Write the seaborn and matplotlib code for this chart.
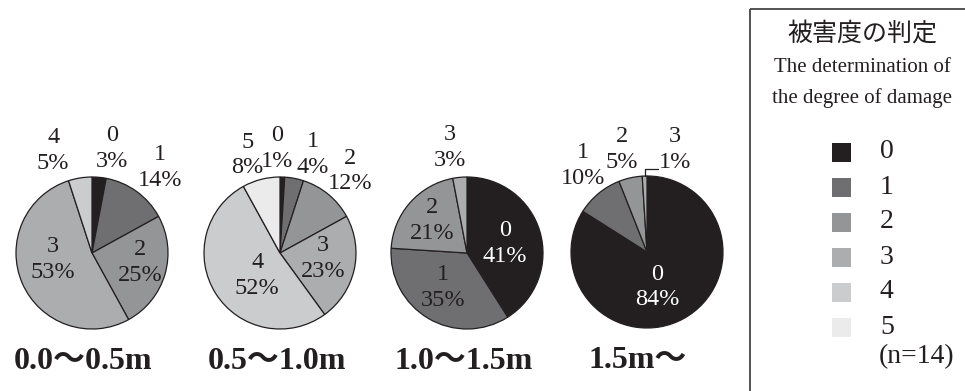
import matplotlib
matplotlib.use("Agg")
import matplotlib.pyplot as plt
import seaborn as sns
import numpy as np
from matplotlib.patches import Rectangle

# ---------------- data ----------------
categories = ["0", "1", "2", "3", "4", "5"]
depth_titles = ["0.0〜0.5m", "0.5〜1.0m", "1.0〜1.5m", "1.5m〜"]
share_00_05 = [3, 14, 25, 53, 5, 0]
share_05_10 = [1, 4, 12, 23, 52, 8]
share_10_15 = [41, 35, 21, 3, 0, 0]
share_15_up = [84, 10, 5, 1, 0, 0]
legend_title_ja = "被害度の判定"
legend_title_en = ["The determination of", "the degree of damage"]
sample_note = "(n=14)"

# ---------------- style ----------------
sns.set_theme(style="white")
FAM = ["Liberation Serif", "Noto Sans CJK JP"]
plt.rcParams["font.family"] = FAM
INK = "#231f20"
palette = sns.color_palette(["#231f20", "#6f6f71", "#949597", "#acadaf", "#cbcccd", "#ebebeb"])

W, H = 965, 391
fig = plt.figure(figsize=(W / 100, H / 100), dpi=100)
fig.patch.set_facecolor("white")

R = 76.0          # pie radius in px
L = 1.6           # axes half-extent in radius units
centers = [(92, 253), (280, 253), (467, 253), (647, 252)]

# label offsets (radius units, y up) per chart, per category
label_pos = [
    {0: (0.26, 1.37), 1: (0.89, 1.12), 2: (0.63, -0.13), 3: (-0.51, -0.09), 4: (-0.51, 1.35)},
    {0: (-0.04, 1.37), 1: (0.43, 1.30), 2: (0.92, 1.08), 3: (0.57, -0.07), 4: (-0.30, -0.30), 5: (-0.43, 1.29)},
    {0: (0.50, 0.13), 1: (-0.32, -0.45), 2: (-0.46, 0.43), 3: (-0.22, 1.39)},
    {0: (0.13, -0.46), 1: (-0.84, 1.14), 2: (-0.33, 1.35)},
]
title_dx = [-0.12, -0.04, -0.04, -0.12]

all_shares = [share_00_05, share_05_10, share_10_15, share_15_up]

for i, (shares, (cx, cy)) in enumerate(zip(all_shares, centers)):
    S = 2 * L * R
    ax = fig.add_axes([(cx - S / 2) / W, (H - cy - S / 2) / H, S / W, S / H])
    idx = [k for k, v in enumerate(shares) if v > 0]
    vals = [shares[k] for k in idx]
    cols = [palette[k] for k in idx]
    wedges, _ = ax.pie(vals, colors=cols, startangle=90, counterclock=False,
                       radius=1.0,
                       wedgeprops=dict(edgecolor=INK, linewidth=0.9))
    ax.set_xlim(-L, L)
    ax.set_ylim(-L, L)
    ax.set_aspect("equal")
    ax.axis("off")
    for k in idx:
        if k not in label_pos[i]:
            continue
        x, y = label_pos[i][k]
        color = "white" if k == 0 and shares[k] > 30 else INK
        ax.text(x, y, f"{categories[k]}\n{shares[k]}%", ha="center", va="center",
                fontsize=17.5, color=color, linespacing=1.3, family=FAM)
    # leader-line label for a tiny slice (last chart)
    if i == 3:
        k = 3
        w = wedges[idx.index(k)]
        th = np.deg2rad((w.theta1 + w.theta2) / 2)
        x0, y0 = np.cos(th), np.sin(th)
        ax.plot([x0, x0, 0.14], [y0, 1.09, 1.09], color=INK, lw=0.9)
        ax.text(0.16, 1.35, f"{categories[k]}\n{shares[k]}%", ha="left", va="center",
                multialignment="center", fontsize=17.5, color=INK, linespacing=1.3,
                family=FAM)
    ax.text(title_dx[i], -1.43, depth_titles[i], ha="center", va="center",
            fontsize=23, fontweight="bold", color=INK, family=FAM)

# ---------------- legend panel ----------------
lax = fig.add_axes([0, 0, 1, 1])
lax.set_xlim(0, W)
lax.set_ylim(H, 0)
lax.axis("off")
lax.add_patch(Rectangle((750, 9), 260, 420, facecolor="none", edgecolor="#444444", lw=1.3))
lax.text(862, 34, legend_title_ja, ha="center", va="center", fontsize=18, color=INK, family=FAM)
lax.text(862, 68, legend_title_en[0], ha="center", va="center", fontsize=15, color=INK, family=FAM)
lax.text(862, 98, legend_title_en[1], ha="center", va="center", fontsize=15, color=INK, family=FAM)
row_y = [152, 187, 222, 257, 292, 327]
for k, yy in enumerate(row_y):
    lax.add_patch(Rectangle((832, yy - 9.5), 19, 19, facecolor=palette[k], edgecolor="none"))
    lax.text(880, yy, categories[k], ha="left", va="center", fontsize=20, color=INK, family=FAM)
lax.text(879, 357, sample_note, ha="left", va="center", fontsize=20, color=INK, family=FAM)

fig.savefig("out.png", dpi=100, facecolor="white")
